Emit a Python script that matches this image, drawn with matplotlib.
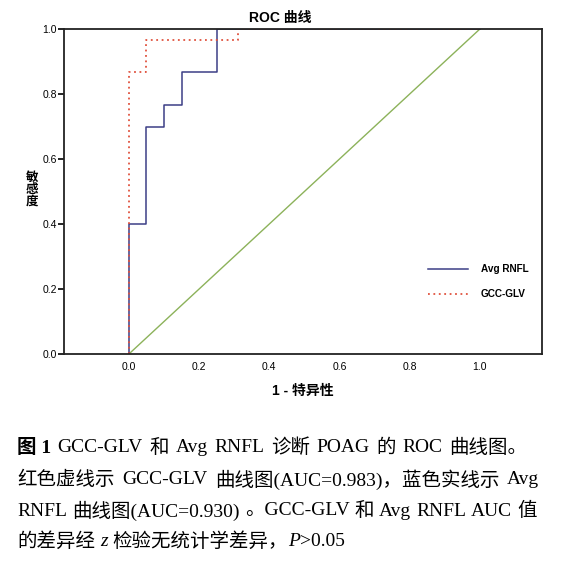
import matplotlib
matplotlib.use('Agg')
import matplotlib.pyplot as plt

plt.rcParams['font.family'] = ['Liberation Sans', 'Noto Sans CJK SC']

# ROC 曲线数据
rnfl_fpr = [0, 0, 0.05, 0.05, 0.10, 0.10, 0.15, 0.15, 0.25, 0.25, 1.0]
rnfl_tpr = [0, 0.40, 0.40, 0.70, 0.70, 0.767, 0.767, 0.867, 0.867, 1.0, 1.0]
gcc_fpr = [0, 0, 0.05, 0.05, 0.31, 0.31, 1.0]
gcc_tpr = [0, 0.867, 0.867, 0.967, 0.967, 1.0, 1.0]
ref_line = [0, 1]
ticks = [0.0, 0.2, 0.4, 0.6, 0.8, 1.0]

# 图注，每行按词切开（用于两端对齐），'b' 粗体，'i' 斜体
caption = [
    [('图 1', 'b'), ('GCC-GLV', ''), ('和', ''), ('Avg', ''), ('RNFL', ''),
     ('诊断', ''), ('POAG', ''), ('的', ''), ('ROC', ''), ('曲线图。', '')],
    [('红色虚线示', ''), ('GCC-GLV', ''), ('曲线图(AUC=0.983)，蓝色实线示', ''), ('Avg', '')],
    [('RNFL', ''), ('曲线图(AUC=0.930)', ''), ('。GCC-GLV', ''), ('和', ''), ('Avg', ''),
     ('RNFL', ''), ('AUC', ''), ('值', '')],
    [('的差异经', ''), ('z', 'i'), ('检验无统计学差异，', ''), ('P', 'i'), ('>0.05', '')],
]
line_y = [448, 480, 511, 542]
line_end = [527, 539, 537, None]
line_gap = [None, None, None, [5, 5, 0, 0]]

W, H = 564, 571
fig = plt.figure(figsize=(W / 100, H / 100), dpi=100)
ax = fig.add_axes([64 / W, 1 - 354 / H, (542 - 64) / W, (354 - 29) / H])

ax.plot(ref_line, ref_line, color='#8cb25a', lw=1.0)
ax.plot(rnfl_fpr, rnfl_tpr, color='#3c3f86', lw=1.1, label='Avg RNFL')
ax.plot(gcc_fpr, gcc_tpr, color='#e0533f', lw=1.3, ls=(0, (1, 2)), label='GCC-GLV')

ax.set_xlim(-0.185, 1.177)
ax.set_ylim(0, 1.0)
ax.set_xticks(ticks)
ax.set_yticks(ticks)
ax.set_xticklabels(['%.1f' % t for t in ticks])
ax.set_yticklabels(['%.1f' % t for t in ticks])
ax.tick_params(axis='x', length=0, pad=6, labelsize=7.5)
ax.tick_params(axis='y', length=4, width=1.2, pad=1, labelsize=7.5)
for s in ax.spines.values():
    s.set_linewidth(1.3)
    s.set_color('#222222')

ax.set_xlabel('1 - 特异性', fontsize=10, fontweight='bold', labelpad=8)
fig.text(32 / W, 1 - 190 / H, '敏\n感\n度', fontsize=9, fontweight='bold',
         ha='center', va='center', linespacing=1.0)
fig.text(280 / W, 1 - 18 / H, 'ROC 曲线', fontsize=10, fontweight='bold',
         ha='center', va='center')

leg = ax.legend(loc='lower right', bbox_to_anchor=(0.99, 0.14), frameon=False,
                fontsize=7.2, handlelength=4.0, handletextpad=1.3, labelspacing=1.5)
for t in leg.get_texts():
    t.set_fontweight('bold')

# 图注，逐词放置
serif = ['Liberation Serif', 'Noto Sans CJK SC']
fig.canvas.draw()
renderer = fig.canvas.get_renderer()
x0 = 17
for parts, y, x_end, gaps in zip(caption, line_y, line_end, line_gap):
    items = []
    for txt, st in parts:
        t = fig.text(0, 1 - y / H, txt, fontsize=14, family=serif, va='center', ha='left',
                     fontweight='bold' if st == 'b' else 'normal',
                     fontstyle='italic' if st == 'i' else 'normal')
        w = t.get_window_extent(renderer).width
        items.append((t, w))
    total = sum(w for _, w in items)
    if x_end is not None:
        gaps = [(x_end - x0 - total) / (len(items) - 1)] * (len(items) - 1)
    x = x0
    for k, (t, w) in enumerate(items):
        t.set_x(x / W)
        x += w
        if k < len(gaps):
            x += gaps[k]

fig.savefig('out.png', dpi=100)
